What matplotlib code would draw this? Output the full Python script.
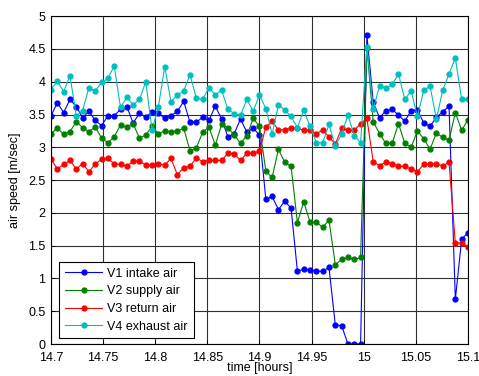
import matplotlib
matplotlib.use('Agg')
import matplotlib.pyplot as plt
import numpy as np

plt.rcParams['font.family'] = ['Liberation Sans', 'DejaVu Sans']
plt.rcParams['font.size'] = 9

# sample times [hours]
t_start = 14.7
t_end = 15.1
n_points = 67

v1_intake = [3.48, 3.68, 3.53, 3.73, 3.62, 3.45, 3.55, 3.41, 3.33, 3.48, 3.48, 3.58,
             3.62, 3.37, 3.52, 3.46, 3.54, 3.52, 3.44, 3.48, 3.55, 3.70, 3.38,
             3.38, 3.46, 3.41, 3.63, 3.43, 3.16, 3.21, 3.43, 3.23, 3.29, 3.19,
             2.21, 2.25, 2.05, 2.18, 2.07, 1.11, 1.14, 1.13, 1.11, 1.11, 1.17,
             0.29, 0.28, 0.0, 0.0, 0.0,
             4.71, 3.69, 3.45, 3.56, 3.58, 3.49, 3.40, 3.56, 3.57, 3.37, 3.32, 3.46, 3.54, 3.63,
             0.68, 1.60, 1.70]
v2_supply = [3.21, 3.29, 3.20, 3.24, 3.39, 3.30, 3.24, 3.31, 3.14, 3.07, 3.16, 3.34,
             3.31, 3.36, 3.14, 3.19, 3.32, 3.21, 3.25, 3.24, 3.25, 3.29, 2.95,
             2.99, 3.23, 3.31, 3.03, 3.35, 3.30, 3.19, 3.06, 3.18, 3.44, 3.32,
             2.64, 2.54, 2.97, 2.77, 2.71,
             1.85, 2.17, 1.86, 1.86, 1.78, 1.89, 1.21, 1.29, 1.32, 1.29, 1.32,
             4.52,
             3.39, 3.21, 3.06, 3.06, 3.36, 3.06, 3.00, 3.25, 3.13, 2.97, 3.22, 3.15,
             3.11, 3.53, 3.26, 3.42]
v3_return = [2.82, 2.67, 2.74, 2.80, 2.67, 2.75, 2.63, 2.74, 2.82, 2.83, 2.75, 2.74,
             2.71, 2.79, 2.79, 2.73, 2.73, 2.74, 2.73, 2.83, 2.58, 2.69, 2.71,
             2.84, 2.78, 2.80, 2.80, 2.80, 2.91, 2.90, 2.80, 2.91, 2.91, 2.94,
             3.31, 3.40, 3.26, 3.27, 3.29, 3.29, 3.26, 3.26, 3.21, 3.26, 3.16,
             3.05, 3.29, 3.26, 3.26, 3.36, 3.44,
             2.78, 2.72, 2.78, 2.75, 2.71, 2.71, 2.67, 2.63, 2.74, 2.75, 2.74, 2.72, 2.77,
             1.54, 1.54, 1.48]
v4_exhaust = [3.88, 4.01, 3.85, 4.09, 3.48, 3.56, 3.91, 3.86, 3.99, 4.05, 4.24, 3.61,
              3.76, 3.65, 3.73, 4.00, 3.26, 3.62, 4.23, 3.69, 3.80, 3.86, 4.11,
              3.75, 3.73, 3.91, 3.80, 3.87, 3.58, 3.51, 3.49, 3.73, 3.55, 3.80,
              3.59, 3.20, 3.65, 3.57, 3.47, 3.30, 3.57, 3.32, 3.07, 3.07, 3.35,
              3.02, 3.20, 3.49, 3.18, 3.07,
              4.53, 3.58, 3.94, 3.90, 3.96, 4.12, 3.73, 3.86, 3.47, 3.87, 3.93, 3.43,
              3.87, 4.12, 4.36, 3.73, 3.73]

labels = ['V1 intake air', 'V2 supply air', 'V3 return air', 'V4 exhaust air']
colors = ['#0000ff', '#008000', '#ff0000', '#00bfbf']

x_ticks = [14.7, 14.75, 14.8, 14.85, 14.9, 14.95, 15.0, 15.05, 15.1]
x_tick_labels = ['14.7', '14.75', '14.8', '14.85', '14.9', '14.95', '15', '15.05', '15.1']
y_ticks = [0, 0.5, 1, 1.5, 2, 2.5, 3, 3.5, 4, 4.5, 5]
y_tick_labels = ['0', '0.5', '1', '1.5', '2', '2.5', '3', '3.5', '4', '4.5', '5']

t = np.linspace(t_start, t_end, n_points)

fig = plt.figure(figsize=(4.79, 3.76), dpi=100)
ax = fig.add_axes([0.1065, 0.085, 0.8705, 0.872])

for y, lab, c in zip([v1_intake, v2_supply, v3_return, v4_exhaust], labels, colors):
    ax.plot(t, y, '-o', color=c, lw=0.8, ms=3.5, label=lab)

ax.set_xlim(t_start, t_end)
ax.set_ylim(0, 5)
ax.set_xticks(x_ticks)
ax.set_xticklabels(x_tick_labels)
ax.set_yticks(y_ticks)
ax.set_yticklabels(y_tick_labels)
ax.tick_params(direction='in', length=3, width=0.6)
ax.tick_params(axis='x', pad=5.5)
ax.tick_params(axis='y', pad=4)
ax.grid(True, color='#303030', lw=0.8)
for s in ax.spines.values():
    s.set_linewidth(0.8)

ax.set_xlabel('time [hours]', labelpad=-1)
ax.set_ylabel('air speed [m/sec]', labelpad=5)

leg = ax.legend(loc='lower left', bbox_to_anchor=(0.02, 0.018), fancybox=False,
                edgecolor='black', framealpha=1, handlelength=3.0,
                borderaxespad=0, labelspacing=0.45, borderpad=0.45, handletextpad=0.4)
leg.get_frame().set_linewidth(0.8)

fig.savefig('out.png', dpi=100)
